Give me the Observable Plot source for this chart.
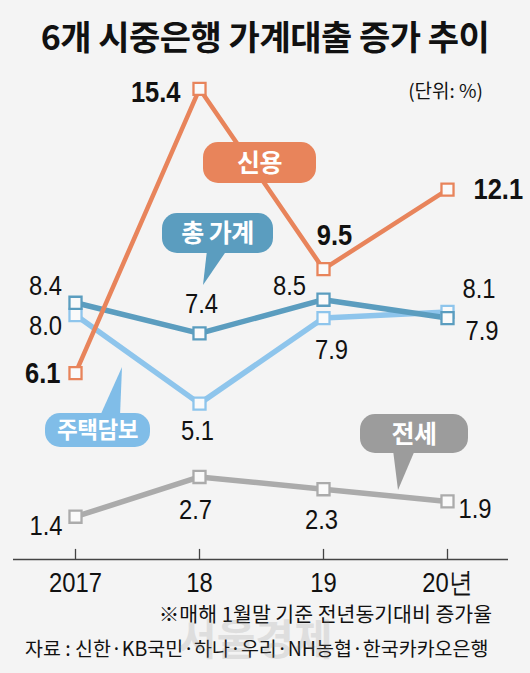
<!DOCTYPE html>
<html><head><meta charset="utf-8">
<script src="https://cdn.jsdelivr.net/npm/d3@7"></script>
<script src="https://cdn.jsdelivr.net/npm/@observablehq/plot@0.6"></script>
<style>
html,body{margin:0;padding:0;background:#f4f4f4;}
#wrap{position:relative;width:530px;height:673px;overflow:hidden;background:#f4f4f4;font-family:"Noto Sans CJK KR",sans-serif;color:#111;}
#chart{position:absolute;left:0;top:0;}
.t{position:absolute;white-space:nowrap;line-height:1;}
#title{left:0;width:530px;top:19px;text-align:center;font-size:34px;font-weight:700;letter-spacing:-0.5px;}
#unit{right:47px;top:80px;font-size:19px;}
#note{right:38px;top:603px;font-size:20.5px;}
#source{left:25px;top:638px;font-size:19.5px;}
#wm{left:178px;top:616px;font-size:42px;font-weight:700;color:#888;opacity:0.2;}
</style></head>
<body>
<div id="wrap">
  <div id="chart"></div>
  <div class="t" id="title">6개 시중은행 가계대출 증가 추이</div>
  <div class="t" id="unit">(단위: %)</div>
  <div class="t" id="note">※매해 1월말 기준 전년동기대비 증가율</div>
  <div class="t" id="source">자료 : 신한·KB국민·하나·우리·NH농협·한국카카오은행</div>
  <div class="t" id="wm">서울경제</div>
</div>
<script>
// ---- data ----
const years = ["2017", "18", "19", "20년"];
const credit = [6.1, 15.4, 9.5, 12.1];      // 신용
const household = [8.4, 7.4, 8.5, 7.9];     // 총 가계
const mortgage = [8.0, 5.1, 7.9, 8.1];      // 주택담보
const jeonse = [1.4, 2.7, 2.3, 1.9];        // 전세
const seriesNames = ["전세", "주택담보", "총 가계", "신용"];

// ---- styling / layout config ----
const colors = {"신용": "#e8845b", "총 가계": "#5b9dbf", "주택담보": "#8ec5ec", "전세": "#ababab"};
const bubbleColors = {"신용": "#e8845b", "총 가계": "#5b9dbf", "주택담보": "#80bde8", "전세": "#9c9c9c"};
// label offsets [dx, dy, anchor] per point
const labelPlacement = {
  "신용": [[-15, 0, "end"], [-19, 4, "end"], [11, -34, "middle"], [26, 0, "start"]],
  "총 가계": [[-30, -17, "middle"], [2, -29, "middle"], [-34, -14, "middle"], [18, 13, "start"]],
  "주택담보": [[-30, 11, "middle"], [-2, 27, "middle"], [8, 32, "middle"], [15, -23, "start"]],
  "전세": [[-13, 9, "end"], [-4, 33, "middle"], [-2, 31, "middle"], [11, 8, "start"]]
};
// callout bubbles (annotation layout, pixels)
const bubbles = [
  {name: "신용", x: 203, y: 142, w: 113, h: 41, fs: 25, tail: null},
  {name: "총 가계", x: 162, y: 213, w: 111, h: 40, fs: 25, tail: [[207, 250], [227, 250], [203, 285]]},
  {name: "주택담보", x: 45, y: 413, w: 105, h: 34, fs: 22.5, tail: [[100, 416], [120, 416], [122, 367]]},
  {name: "전세", x: 360, y: 414, w: 108, h: 39, fs: 25, tail: [[393, 450], [415, 450], [398, 490]]}
];

const valuesBy = {"신용": credit, "총 가계": household, "주택담보": mortgage, "전세": jeonse};
const rows = seriesNames.flatMap(s => years.map((yr, i) => ({series: s, year: yr, value: valuesBy[s][i], i})));

const numFont = '"Liberation Sans", Arial, sans-serif';
const condense = 0.85;

const marks = [
  Plot.ruleY([0], {stroke: "#444", strokeWidth: 1.3}),
  Plot.ruleX(years, {x: d => d, y1: 0, y2: 0.33, stroke: "#444", strokeWidth: 1.3}),
  Plot.axisX({tickSize: 0, tickPadding: 13, fontSize: 28, fontFamily: numFont, fill: "#111"})
];
for (const s of seriesNames) {
  const data = rows.filter(r => r.series === s);
  marks.push(Plot.line(data, {x: "year", y: "value", stroke: colors[s], strokeWidth: s === "신용" ? 4.5 : 5.5}));
}
for (const s of seriesNames) {
  const data = rows.filter(r => r.series === s);
  marks.push(Plot.dot(data, {x: "year", y: "value", symbol: "square", r: 6.8, fill: "#fafafa", stroke: colors[s], strokeWidth: 2.3}));
}
marks.push(() => {
  const g = d3.create("svg:g");
  for (const b of bubbles) {
    const c = bubbleColors[b.name];
    if (b.tail) g.append("path").attr("d", "M" + b.tail.map(p => p.join(",")).join("L") + "Z").attr("fill", c);
    g.append("rect").attr("x", b.x).attr("y", b.y).attr("width", b.w).attr("height", b.h)
      .attr("rx", Math.min(15, b.h / 2)).attr("fill", c);
    g.append("text").attr("x", b.x + b.w / 2).attr("y", b.y + b.h / 2).attr("dy", "0.36em")
      .attr("text-anchor", "middle").attr("fill", "#fff").attr("font-weight", 700)
      .attr("font-size", b.fs).attr("font-family", '"Noto Sans CJK KR", sans-serif')
      .attr("letter-spacing", "-0.5").text(b.name);
  }
  return g.node();
});
for (const r of rows) {
  const [dx, dy, anchor] = labelPlacement[r.series][r.i];
  const bold = r.series === "신용";
  marks.push(Plot.text([r], {
    x: "year", y: "value", text: d => d.value.toFixed(1),
    dx, dy, textAnchor: anchor,
    fontSize: bold ? 30 : 28, fontWeight: bold ? 700 : 400, fontFamily: numFont, fill: "#111"
  }));
}

const chart = Plot.plot({
  width: 530, height: 673,
  marginTop: 70, marginBottom: 114, marginLeft: 13, marginRight: 22,
  style: {background: "transparent", overflow: "visible"},
  x: {type: "point", domain: years, padding: 0.485, label: null},
  y: {domain: [0, 16], axis: null},
  marks
});
// condensed numeric type, as in the reference
chart.querySelectorAll('g[aria-label="text"] text, g[aria-label="x-axis tick label"] text').forEach(t => {
  const tr = t.getAttribute("transform");
  if (tr) t.setAttribute("transform", tr + ` scale(${condense},1)`);
});
document.getElementById("chart").appendChild(chart);
</script>
</body></html>
